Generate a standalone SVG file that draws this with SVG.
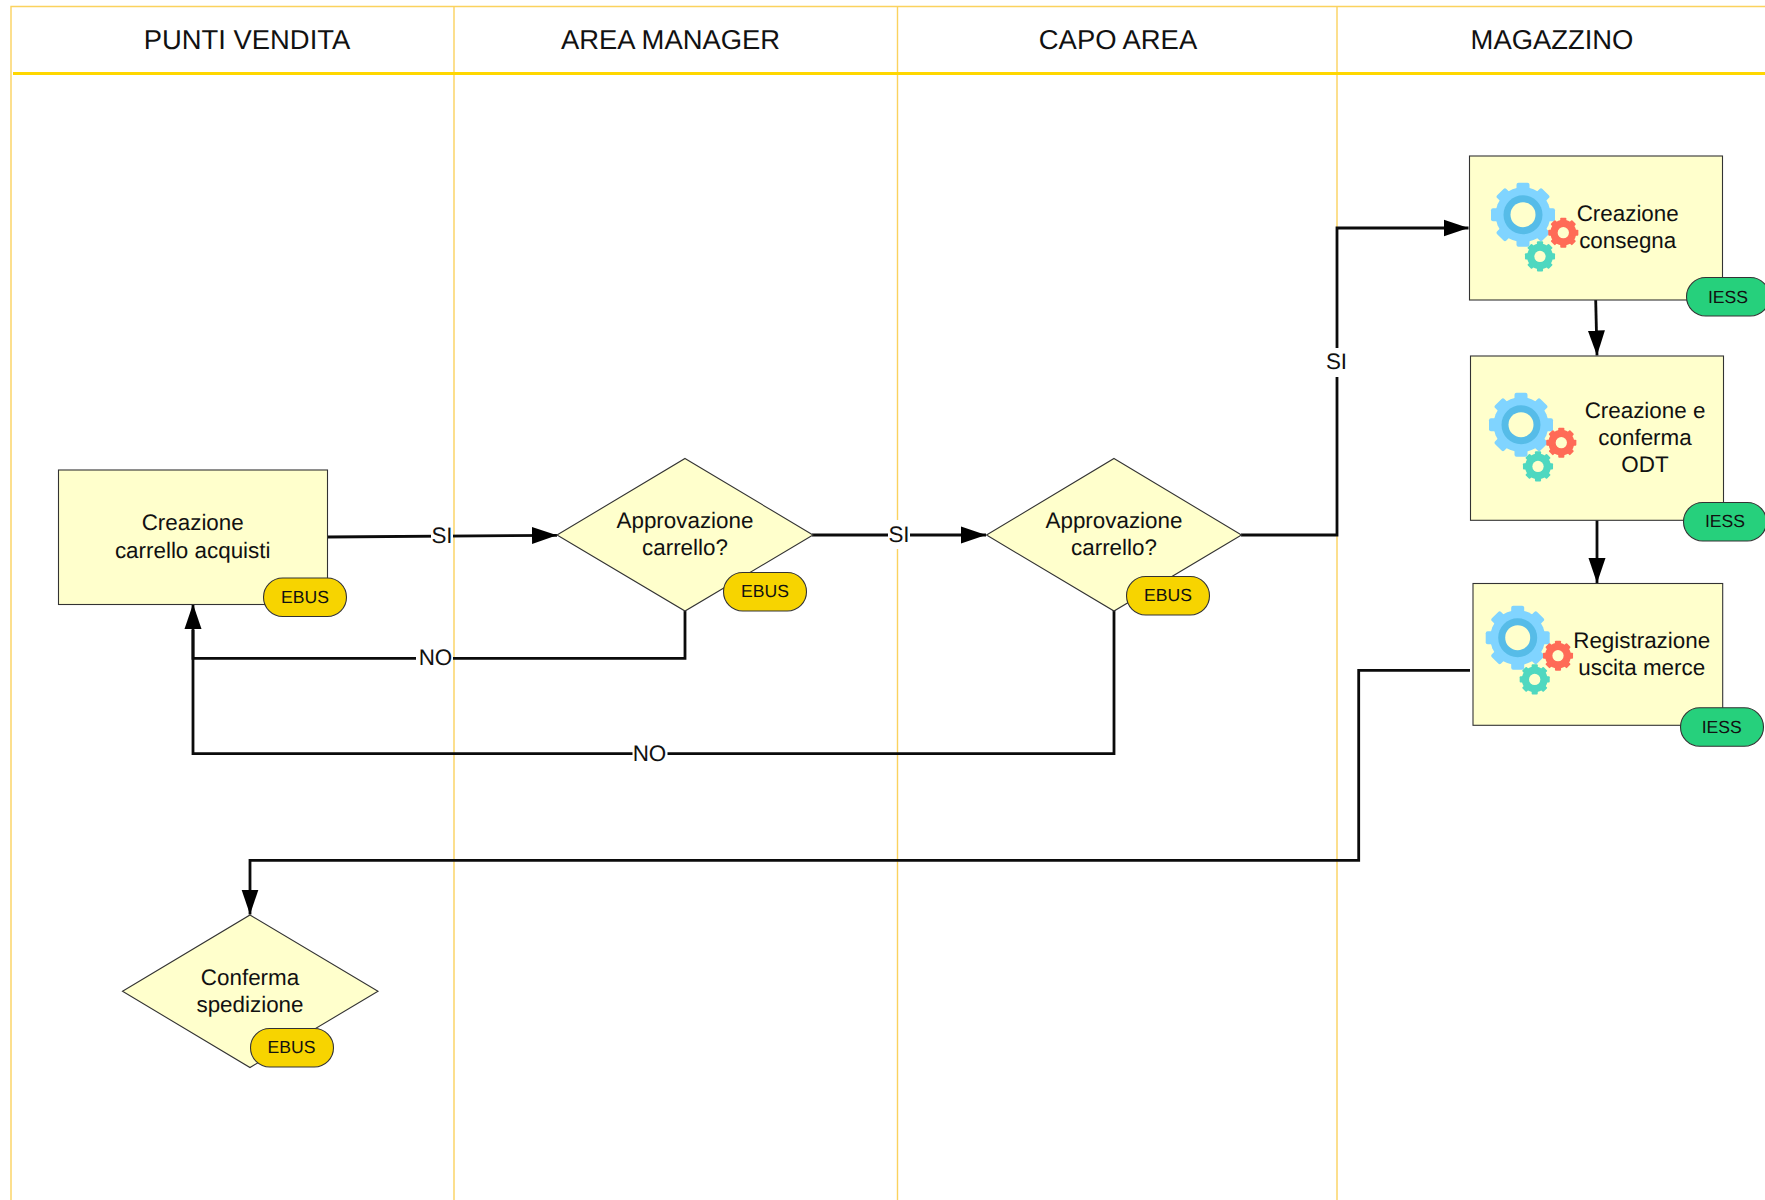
<svg xmlns="http://www.w3.org/2000/svg" xmlns:xlink="http://www.w3.org/1999/xlink" width="1765" height="1200" viewBox="0 0 1765 1200">
<style>
text{font-family:"Liberation Sans",Arial,sans-serif;fill:#111;text-anchor:middle;text-rendering:geometricPrecision}
.hd{font-size:27.4px}
.lb{font-size:22.4px}
.cl{font-size:22.4px}
.pt{font-size:17.6px}
.shape{fill:#ffffcc;stroke:#333;stroke-width:1.1}
.pe{fill:#f7d400;stroke:#333;stroke-width:1.1}
.pi{fill:#26d07c;stroke:#333;stroke-width:1.1}
.lane{stroke:#fbd25e;stroke-width:1.4;fill:none}
.head{stroke:#ffd700;stroke-width:2.8;fill:none}
.cn{stroke:#0b0b0b;stroke-width:2.8;fill:none;stroke-linejoin:miter}
.bg{fill:#fff}
.hole{fill:#ffffcc}
</style>
<defs>
<marker id="arr" markerUnits="userSpaceOnUse" markerWidth="25" markerHeight="18" refX="25" refY="9" orient="auto">
<path d="M0 0.500L25 9L0 17.500Z" fill="#000"/>
</marker>
<g id="cog">
<circle r="27.5"/>
<g id="teeth4"><rect x="-6.500" y="-32" width="13" height="64" rx="2"/><rect x="-32" y="-6.500" width="64" height="13" rx="2"/></g>
<use href="#teeth4" transform="rotate(45)"/>
</g>
<g id="gears">
<use href="#cog" fill="#80d4ff"/>
<circle r="19.5" fill="#56bce8"/>
<circle class="hole" r="12.5"/>
<g transform="translate(40.300 18) scale(.47)"><use href="#cog" fill="#ff6b57"/><circle class="hole" r="12"/></g>
<g transform="translate(17 41.700) scale(.47)"><use href="#cog" fill="#4fd8c0"/><circle class="hole" r="12"/></g>
</g>
</defs>
<rect width="1765" height="1200" fill="#fff"/>
<g id="swimlanes">
<path class="lane" d="M1765 6.500H11V1200M454 6.500V1200M897.500 6.500V1200M1337 6.500V1200"/>
<path class="head" d="M13 73.500H1765"/>
<text class="hd" x="247" y="49">PUNTI VENDITA</text>
<text class="hd" x="670.500" y="49">AREA MANAGER</text>
<text class="hd" x="1118" y="49">CAPO AREA</text>
<text class="hd" x="1552" y="49">MAGAZZINO</text>
</g>
<g id="connectors">
<path class="cn" marker-end="url(#arr)" d="M327 537L557 535.300"/>
<path class="cn" marker-end="url(#arr)" d="M685 611V658.300H193V604"/>
<path class="cn" marker-end="url(#arr)" d="M812 535H986"/>
<path class="cn" d="M1114 610V753.700H193V630"/>
<path class="cn" marker-end="url(#arr)" d="M1241 535H1337V228H1468.500"/>
<path class="cn" marker-end="url(#arr)" d="M1595.700 300L1597 355.500"/>
<path class="cn" marker-end="url(#arr)" d="M1597 520V583"/>
<path class="cn" marker-end="url(#arr)" d="M1470 670.300H1358.700V860.300H250V914.500"/>
<rect class="bg" x="431" y="522" width="22" height="28"/>
<text class="cl" x="442" y="542.500">SI</text>
<rect class="bg" x="416" y="645" width="37" height="26"/>
<text class="cl" x="435.500" y="665">NO</text>
<rect class="bg" x="888" y="520" width="22" height="29"/>
<text class="cl" x="899" y="542">SI</text>
<rect class="bg" x="632.500" y="741" width="35" height="26"/>
<text class="cl" x="649.500" y="761">NO</text>
<rect class="bg" x="1326" y="348" width="22" height="29"/>
<text class="cl" x="1336.500" y="369">SI</text>
</g>
<g id="node-creazione-carrello">
<rect class="shape" x="58.500" y="470" width="269" height="134.500"/>
<text class="lb" x="192.700" y="530">Creazione</text>
<text class="lb" x="192.700" y="557.700">carrello acquisti</text>
<rect class="pe" x="263.500" y="578" width="83" height="38.500" rx="19.250"/>
<text class="pt" x="305" y="602.800">EBUS</text>
</g>
<g id="node-approvazione-am">
<path class="shape" d="M685 458.500L813 535L685 611L557 535Z"/>
<text class="lb" x="685" y="527.700">Approvazione</text>
<text class="lb" x="685" y="554.800">carrello?</text>
<rect class="pe" x="723.500" y="572.500" width="83" height="38.500" rx="19.250"/>
<text class="pt" x="765" y="597">EBUS</text>
</g>
<g id="node-approvazione-ca">
<path class="shape" d="M1114 458.500L1241.500 535L1114 611L986.500 535Z"/>
<text class="lb" x="1114" y="527.700">Approvazione</text>
<text class="lb" x="1114" y="554.800">carrello?</text>
<rect class="pe" x="1126.500" y="576.500" width="83" height="38.500" rx="19.250"/>
<text class="pt" x="1168" y="601">EBUS</text>
</g>
<g id="node-conferma-spedizione">
<path class="shape" d="M250 915L378 991.300L250 1067.500L122.500 991.300Z"/>
<text class="lb" x="250" y="984.500">Conferma</text>
<text class="lb" x="250" y="1011.500">spedizione</text>
<rect class="pe" x="250.500" y="1028.500" width="83" height="38.500" rx="19.250"/>
<text class="pt" x="291.500" y="1053">EBUS</text>
</g>
<g id="node-creazione-consegna">
<rect class="shape" x="1469.500" y="156" width="253" height="144"/>
<use href="#gears" x="1523" y="214.700"/>
<text class="lb" x="1627.700" y="221">Creazione</text>
<text class="lb" x="1627.700" y="247.700">consegna</text>
<rect class="pi" x="1686.500" y="277.500" width="83" height="38.500" rx="19.250"/>
<text class="pt" x="1728" y="302.700">IESS</text>
</g>
<g id="node-creazione-odt">
<rect class="shape" x="1470.500" y="356" width="253" height="164.300"/>
<use href="#gears" x="1521" y="424.700"/>
<text class="lb" x="1645" y="417.700">Creazione e</text>
<text class="lb" x="1645" y="444.700">conferma</text>
<text class="lb" x="1645" y="471.500">ODT</text>
<rect class="pi" x="1683.500" y="502.500" width="83" height="38.500" rx="19.250"/>
<text class="pt" x="1725" y="527">IESS</text>
</g>
<g id="node-registrazione-uscita">
<rect class="shape" x="1473" y="583.500" width="249.700" height="141.800"/>
<use href="#gears" x="1517.700" y="637.700"/>
<text class="lb" x="1641.700" y="647.700">Registrazione</text>
<text class="lb" x="1641.700" y="674.600">uscita merce</text>
<rect class="pi" x="1680.500" y="707.700" width="83" height="38.500" rx="19.250"/>
<text class="pt" x="1721.700" y="732.700">IESS</text>
</g>
</svg>
